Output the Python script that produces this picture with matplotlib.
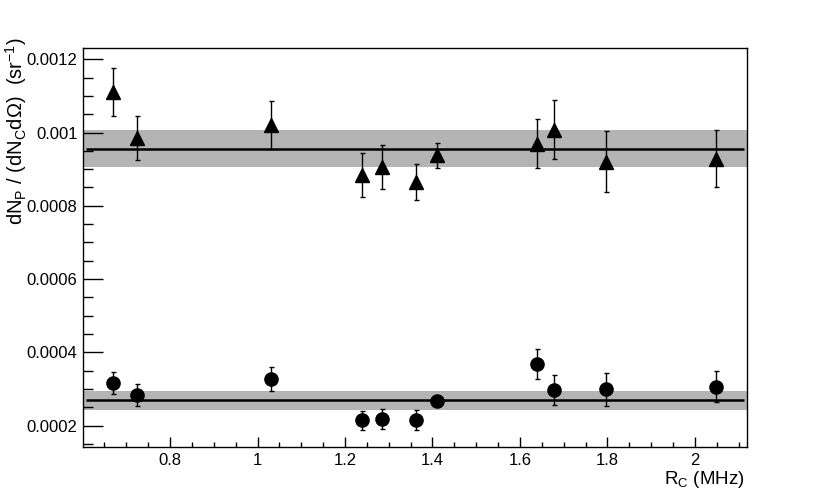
import matplotlib
matplotlib.use("Agg")
import matplotlib.pyplot as plt
from matplotlib.ticker import MultipleLocator, FuncFormatter

plt.rcParams['font.family'] = ['Liberation Sans', 'DejaVu Sans']
plt.rcParams['mathtext.fontset'] = 'custom'
plt.rcParams['mathtext.rm'] = 'Liberation Sans'
plt.rcParams['mathtext.it'] = 'Liberation Sans:italic'

# Data: rate R_C (MHz) and dN_P/(dN_C dOmega)
rc = [0.670, 0.725, 1.031, 1.238, 1.285, 1.362, 1.410, 1.640, 1.678, 1.796, 2.049]

tri_y = [0.00111, 0.000986, 0.00102, 0.000884, 0.000906, 0.000865, 0.000938,
         0.00097, 0.001008, 0.00092, 0.000929]
tri_err = [0.000066, 0.00006, 0.000065, 0.00006, 0.00006, 0.00005, 0.000034,
           0.000067, 0.00008, 0.000083, 0.000078]

circ_y = [0.000317, 0.000284, 0.000327, 0.000214, 0.000217, 0.000216, 0.000266,
          0.000368, 0.000297, 0.000299, 0.000306]
circ_err = [0.00003, 0.00003, 0.000033, 0.000027, 0.000027, 0.000027, 0.000005,
            0.00004, 0.000042, 0.000045, 0.000042]

# constant fits with uncertainty bands
fit_tri, band_tri = 0.000956, 0.000051
fit_circ, band_circ = 0.000269, 0.000026

fig = plt.figure(figsize=(8.3, 5.01), dpi=100)
ax = fig.add_axes([0.1, 0.1068, 0.8, 0.7968])

ax.axhspan(fit_tri - band_tri, fit_tri + band_tri, color='#b4b4b4', lw=0, zorder=1)
ax.axhspan(fit_circ - band_circ, fit_circ + band_circ, color='#b4b4b4', lw=0, zorder=1)
ax.hlines([fit_tri, fit_circ], 0.608, 2.113, colors='black', lw=1.8, zorder=2)

ax.errorbar(rc, tri_y, yerr=tri_err, fmt='^', color='black', ms=9.5, lw=1,
            capsize=1.8, capthick=1, zorder=3)
ax.errorbar(rc, circ_y, yerr=circ_err, fmt='o', color='black', ms=9.5, lw=1,
            capsize=1.8, capthick=1, zorder=3)

ax.set_xlim(0.601, 2.119)
ax.set_ylim(0.00014, 0.00123)

fmt = FuncFormatter(lambda v, p: f'{round(v, 6):g}')
ax.xaxis.set_major_locator(MultipleLocator(0.2))
ax.xaxis.set_minor_locator(MultipleLocator(0.05))
ax.yaxis.set_major_locator(MultipleLocator(0.0002))
ax.yaxis.set_minor_locator(MultipleLocator(0.00005))
ax.xaxis.set_major_formatter(fmt)
ax.yaxis.set_major_formatter(fmt)

ax.tick_params(axis='both', which='both', direction='in', top=False, right=False,
               labelsize=12, width=1)
ax.tick_params(axis='y', which='major', length=14.4, pad=4)
ax.tick_params(axis='y', which='minor', length=7.2)
ax.tick_params(axis='x', which='major', length=7.2, pad=4)
ax.tick_params(axis='x', which='minor', length=3.5)
for s in ax.spines.values():
    s.set_linewidth(1)

fig.text(745 / 830, 1 - 480 / 501, r'R$_{\rm C}$ (MHz)', ha='right', va='center', fontsize=13.5)
fig.text(16 / 830, 1 - 37 / 501,
         r'dN$_{\rm P}$ / (dN$_{\rm C}$d$\Omega$)  (sr$^{-1}$)',
         rotation=90, ha='center', va='top', fontsize=14.5)

fig.savefig('out.png', dpi=100)
